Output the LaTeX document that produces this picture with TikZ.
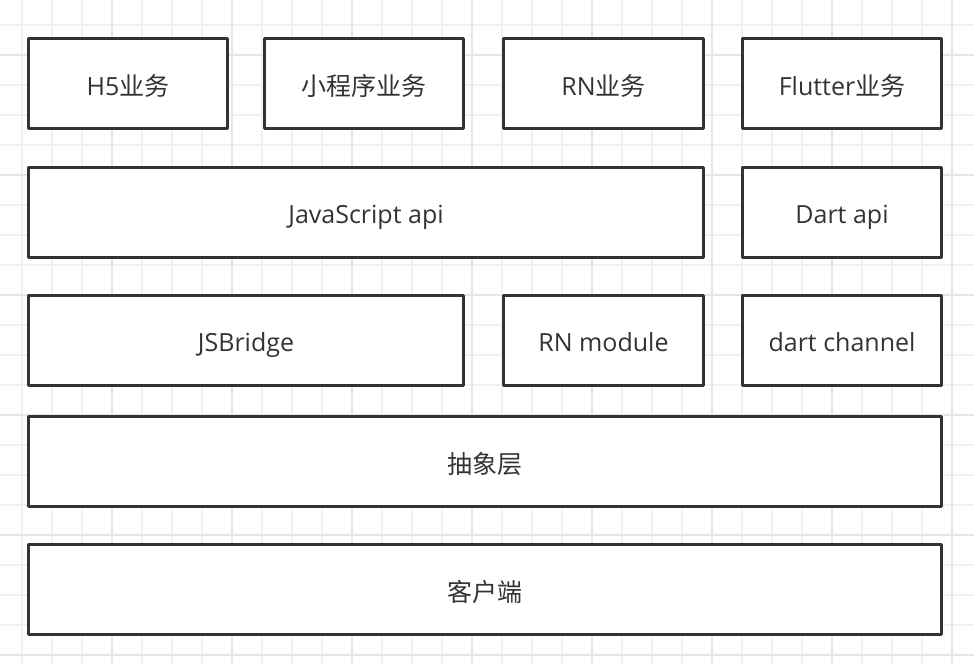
\documentclass[tikz,border=0pt]{standalone}
\usepackage{fontspec}
\setmainfont{Open Sans}
\newfontfamily\cjk{Noto Sans CJK SC}
\definecolor{edge}{HTML}{333333}
\definecolor{gridminor}{HTML}{F1F1F1}
\definecolor{gridmajor}{HTML}{E6E6E6}
\tikzset{
  layerbox/.style={draw=edge, fill=white, line width=3pt, line join=round,
    rectangle, minimum height=90pt, inner sep=0pt, text=edge,
    font=\fontsize{25pt}{30pt}\selectfont, text height=23pt, text depth=0pt},
  minorline/.style={draw=gridminor, line width=1.2pt},
  majorline/.style={draw=gridmajor, line width=1.6pt}
}
\begin{document}
\begin{tikzpicture}[x=1pt,y=-1pt]
\useasboundingbox (0,0) rectangle (974,664);
\fill[white] (0,0) rectangle (974,664);
% grid
\foreach \gx in {22,52,...,952} \draw[minorline] (\gx,0) -- (\gx,664);
\foreach \gy in {25,55,...,655} \draw[minorline] (0,\gy) -- (974,\gy);
\foreach \gx in {112,232,352,472,592,712,832,952} \draw[majorline] (\gx,0) -- (\gx,664);
\foreach \gy in {55,175,295,415,535,655} \draw[majorline] (0,\gy) -- (974,\gy);
% row 1
\node[layerbox, minimum width=199pt] (h5) at (128,83.5) {H5{\cjk 业务}};
\node[layerbox, minimum width=199pt] (mini) at (364,83.5) {{\cjk 小程序业务}};
\node[layerbox, minimum width=200pt] (rn) at (603.5,83.5) {RN{\cjk 业务}};
\node[layerbox, minimum width=199pt] (flutter) at (842,83.5) {Flutter{\cjk 业务}};
% row 2
\node[layerbox, minimum width=675pt] (jsapi) at (366,212) {JavaScript api};
\node[layerbox, minimum width=199pt] (dartapi) at (842,212) {Dart api};
% row 3
\node[layerbox, minimum width=435pt] (jsbridge) at (246,340) {JSBridge};
\node[layerbox, minimum width=200pt] (rnmodule) at (603.5,340) {RN module};
\node[layerbox, minimum width=199pt] (dartchannel) at (842,340) {dart channel};
% row 4, 5
\node[layerbox, minimum width=913pt] (abstract) at (485,461.5) {{\cjk 抽象层}};
\node[layerbox, minimum width=913pt] (client) at (485,589.5) {{\cjk 客户端}};
\end{tikzpicture}
\end{document}
